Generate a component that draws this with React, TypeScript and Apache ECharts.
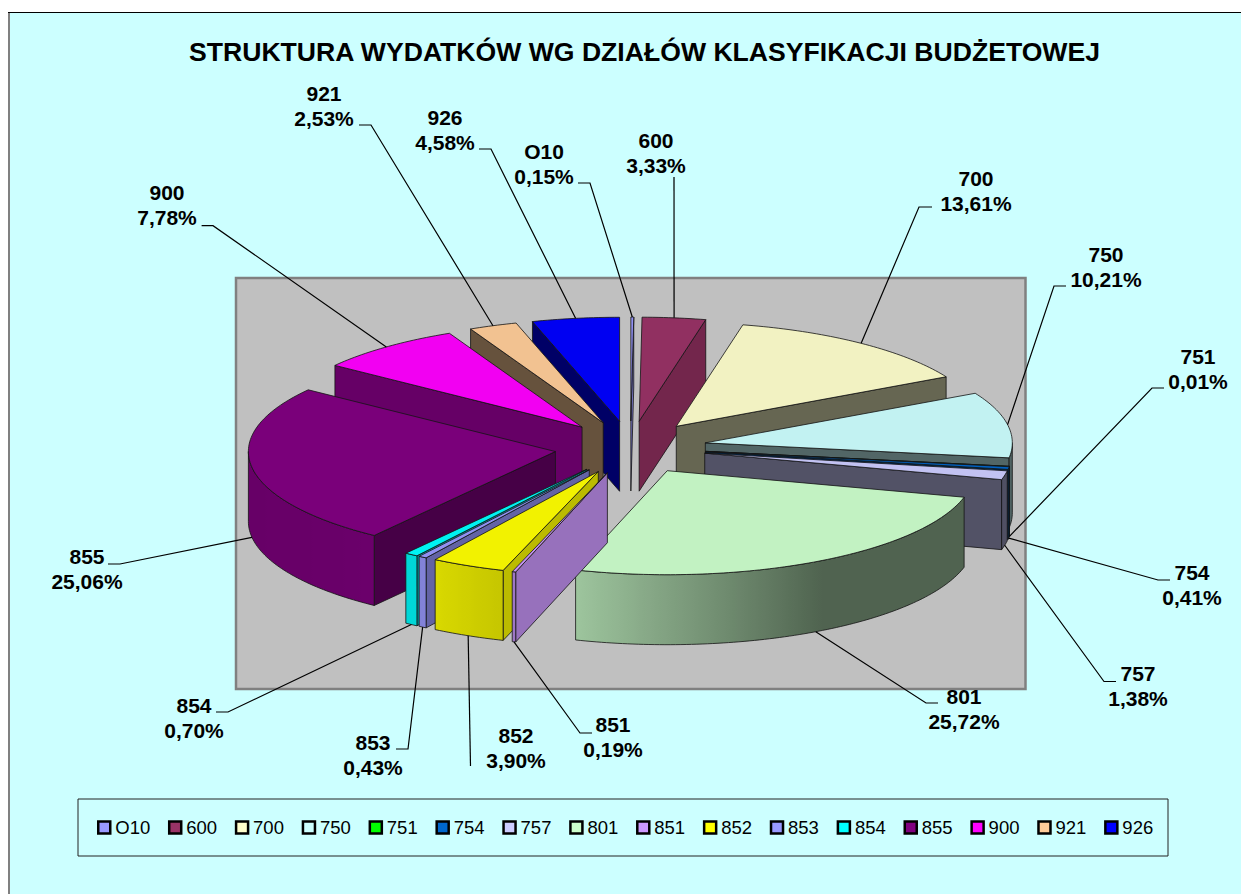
import React, { useEffect, useRef } from "react";
import * as echarts from "echarts";

const categories = ["O10", "600", "700", "750", "751", "754", "757", "801", "851", "852", "853", "854", "855", "900", "921", "926"];
const shares = [0.15, 3.33, 13.61, 10.21, 0.01, 0.41, 1.38, 25.72, 0.19, 3.9, 0.43, 0.7, 25.06, 7.78, 2.53, 4.58];
const colors = ["#9999FF", "#993366", "#FFFFCC", "#CCFFFF", "#00FF00", "#0066CC", "#CCCCFF", "#CCFFCC", "#CC99FF", "#FFFF00", "#9999FF", "#00FFFF", "#800080", "#FF00FF", "#FFCC99", "#0000FF"];
const titleText = "STRUKTURA WYDATKÓW WG DZIAŁÓW KLASYFIKACJI BUDŻETOWEJ";

// Pie projection (layout only)
const CX = 630.5, CY = 447.5, RX = 307, RY = 104, DEPTH = 70, EX = 76, EY = 26.5;
const FONT = "'Liberation Sans', Arial, sans-serif";

// Label layout: centre x, first-line centre y, leader start points
const labelLayout: Record<string, { x: number; y: number; from: number[][] }> = {
  O10: { x: 544, y: 152, from: [[578, 183], [590, 183]] },
  "600": { x: 656, y: 141, from: [[674, 177]] },
  "700": { x: 976, y: 179, from: [[932, 207], [919, 207]] },
  "750": { x: 1106, y: 255, from: [[1066, 286], [1054, 286]] },
  "751": { x: 1198, y: 357, from: [[1164, 388], [1152, 388]] },
  "754": { x: 1192, y: 573, from: [[1170, 580], [1158, 580]] },
  "757": { x: 1138, y: 674, from: [[1116, 681.5], [1104, 681.5]] },
  "801": { x: 964, y: 697, from: [[938, 703], [926, 703]] },
  "851": { x: 613, y: 725, from: [[592, 733], [580, 733]] },
  "852": { x: 516, y: 736, from: [[470.5, 766]] },
  "853": { x: 373, y: 743, from: [[396, 749], [408, 749]] },
  "854": { x: 194, y: 706, from: [[216, 712], [228, 712]] },
  "855": { x: 87, y: 557, from: [[108, 564], [120, 564]] },
  "900": { x: 167, y: 193, from: [[201.6, 225.7], [213, 225.7]] },
  "921": { x: 324, y: 94, from: [[359, 125], [371, 125]] },
  "926": { x: 445, y: 118, from: [[479, 149], [491, 149]] },
};

const rad = (d: number) => (d * Math.PI) / 180;
const total = shares.reduce((a, b) => a + b, 0);

type Slice = { start: number; end: number; mid: number; ax: number; ay: number };
const slices: Slice[] = (() => {
  let acc = 0;
  return shares.map((v) => {
    const start = (acc / total) * 360;
    acc += v;
    const end = (acc / total) * 360;
    const mid = (start + end) / 2;
    return { start, end, mid, ax: CX + EX * Math.sin(rad(mid)), ay: CY - EY * Math.cos(rad(mid)) };
  });
})();

const rim = (s: Slice, a: number, dy = 0) => [s.ax + RX * Math.sin(rad(a)), s.ay - RY * Math.cos(rad(a)) + dy];

function lerpTable(table: number[][], v: number) {
  if (v <= table[0][0]) return table[0][1];
  for (let i = 1; i < table.length; i++) {
    if (v <= table[i][0]) {
      const [a, b] = [table[i - 1], table[i]];
      return a[1] + ((b[1] - a[1]) * (v - a[0])) / (b[0] - a[0]);
    }
  }
  return table[table.length - 1][1];
}
const radialShadeTable = [[102, 0.75], [107, 0.74], [122, 0.65], [126, 0.55], [151, 0.4], [260, 0.4]];
const arcShadeTable = [[150, 0.39], [197, 0.77], [212, 0.85], [225, 0.82], [270, 0.8]];

function shade(hex: string, f: number) {
  const n = parseInt(hex.slice(1), 16);
  const c = [(n >> 16) & 255, (n >> 8) & 255, n & 255].map((x) => Math.round(x * f));
  return `rgb(${c[0]},${c[1]},${c[2]})`;
}

const EDGE = { stroke: "rgba(20,20,20,0.8)", lineWidth: 1 };

function sliceElements(i: number) {
  const s = slices[i];
  const color = colors[i];
  const children: any[] = [];
  const radial = (a: number, normal: number) => {
    const p = rim(s, a);
    const q = rim(s, a, DEPTH);
    children.push({
      type: "polygon",
      shape: { points: [[s.ax, s.ay], p, q, [s.ax, s.ay + DEPTH]] },
      style: { fill: shade(color, lerpTable(radialShadeTable, normal)), ...EDGE },
    });
  };
  if (Math.sin(rad(s.start)) < 0) radial(s.start, s.start - 90);
  if (Math.sin(rad(s.end)) > 0) radial(s.end, s.end + 90);

  const from = Math.max(s.start, 90);
  const to = Math.min(s.end, 270);
  if (to > from) {
    const steps = Math.max(2, Math.ceil(to - from));
    const top: number[][] = [];
    const bottom: number[][] = [];
    const angles: number[] = [];
    for (let k = 0; k <= steps; k++) {
      const a = from + ((to - from) * k) / steps;
      angles.push(a);
      top.push(rim(s, a));
      bottom.push(rim(s, a, DEPTH));
    }
    const xs = top.map((p) => p[0]);
    const xmin = Math.min(...xs);
    const xmax = Math.max(...xs);
    const stops = angles
      .map((a, k) => ({ offset: xmax > xmin ? (xs[k] - xmin) / (xmax - xmin) : k / steps, color: shade(color, lerpTable(arcShadeTable, a)) }))
      .sort((p, q) => p.offset - q.offset);
    children.push({
      type: "polygon",
      shape: { points: [...top, ...bottom.reverse()] },
      style: { fill: new echarts.graphic.LinearGradient(0, 0, 1, 0, stops), ...EDGE },
    });
  }

  const pts: number[][] = [[s.ax, s.ay]];
  const n = Math.max(1, Math.ceil(s.end - s.start));
  for (let k = 0; k <= n; k++) pts.push(rim(s, s.start + ((s.end - s.start) * k) / n));
  children.push({ type: "polygon", shape: { points: pts }, style: { fill: shade(color, 0.95), ...EDGE } });
  return { type: "group", children };
}

function labelElements(i: number) {
  const s = slices[i];
  const layout = labelLayout[categories[i]];
  const front = Math.cos(rad(s.mid)) < 0;
  const end = rim(s, s.mid, front ? DEPTH : 0);
  return {
    type: "group",
    children: [
      {
        type: "polyline",
        shape: { points: [...layout.from, end] },
        style: { fill: "none", stroke: "#000", lineWidth: 1.2 },
      },
      {
        type: "text",
        style: {
          x: layout.x,
          y: layout.y - 13,
          text: `${categories[i]}\n${shares[i].toFixed(2).replace(".", ",")}%`,
          align: "center",
          verticalAlign: "top",
          fontFamily: FONT,
          fontWeight: "bold",
          fontSize: 21,
          lineHeight: 25,
          fill: "#000",
        },
      },
    ],
  };
}

const paintOrder = categories.map((_, i) => i).sort((a, b) => slices[a].ay - slices[b].ay);

export default function App() {
  const ref = useRef<HTMLDivElement>(null);
  useEffect(() => {
    const chart = echarts.init(ref.current!, null, { renderer: "svg" });
    const sliceSeries = paintOrder.map((i, rank) => ({
      type: "custom",
      name: categories[i],
      coordinateSystem: "none",
      z: 3 + rank,
      silent: true,
      itemStyle: { color: colors[i] },
      data: [[shares[i]]],
      renderItem: () => sliceElements(i),
    }));
    chart.setOption({
      animation: false,
      backgroundColor: "#FFFFFF",
      title: {
        text: titleText,
        left: 639.5,
        top: 33,
        textAlign: "center",
        textStyle: { fontFamily: FONT, fontWeight: "bold", fontSize: 26.6, color: "#000" },
      },
      legend: {
        data: categories,
        left: 97,
        top: 818,
        padding: 0,
        itemWidth: 12,
        itemHeight: 12,
        itemGap: 17.75,
        icon: "rect",
        selectedMode: false,
        itemStyle: { borderColor: "#000", borderWidth: 2.5 },
        textStyle: { fontFamily: FONT, fontSize: 18.5, color: "#000" },
      },
      graphic: [
        { type: "rect", z: -5, shape: { x: 9, y: 13, width: 1232, height: 881 }, style: { fill: "#CCFFFF" } },
        { type: "line", z: -4, shape: { x1: 8, y1: 12.5, x2: 1241, y2: 12.5 }, style: { stroke: "#000", lineWidth: 1 } },
        { type: "line", z: -4, shape: { x1: 9, y1: 13, x2: 9, y2: 894 }, style: { stroke: "#808080", lineWidth: 2 } },
        { type: "rect", z: -3, shape: { x: 236, y: 278, width: 789.5, height: 411 }, style: { fill: "#C0C0C0", stroke: "#808080", lineWidth: 2.5 } },
        { type: "rect", z: -3, shape: { x: 78, y: 799, width: 1090, height: 57 }, style: { fill: "none", stroke: "#222", lineWidth: 1 } },
      ],
      series: [
        ...sliceSeries,
        {
          type: "custom",
          name: "labels",
          coordinateSystem: "none",
          z: 40,
          silent: true,
          data: categories.map((_, i) => [i]),
          renderItem: (params: any) => labelElements(params.dataIndex),
        },
      ],
    });
    return () => chart.dispose();
  }, []);
  return <div ref={ref} style={{ position: "fixed", left: 0, top: 0, width: 1241, height: 894 }} />;
}
